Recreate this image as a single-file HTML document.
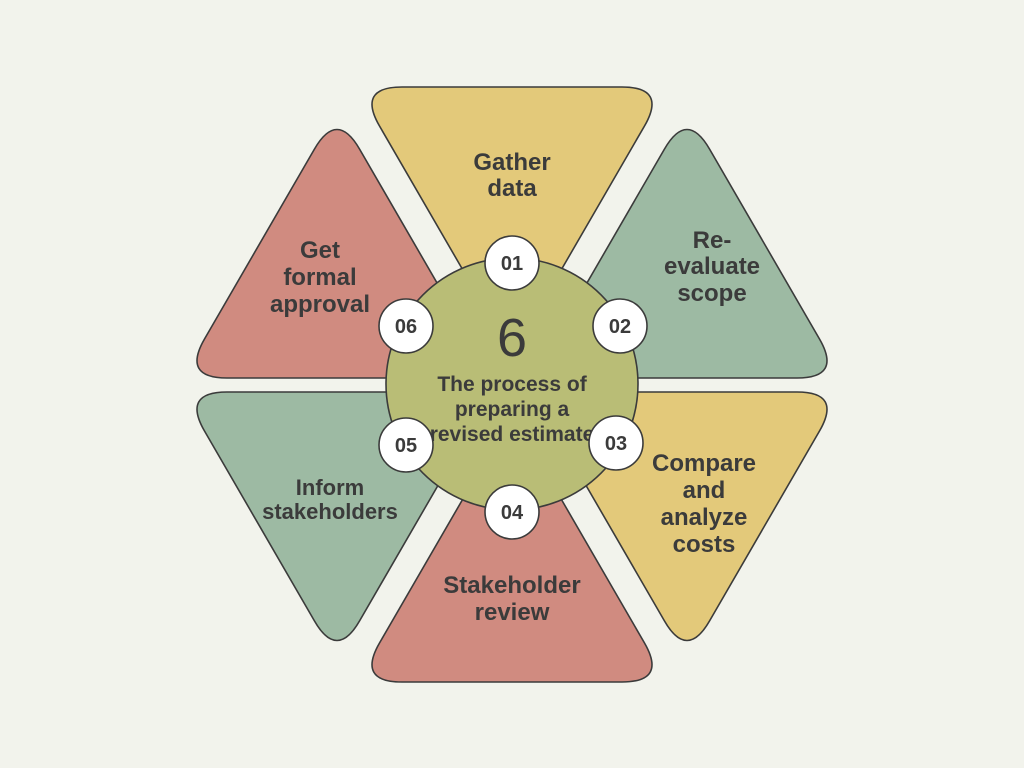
<!DOCTYPE html>
<html><head><meta charset="utf-8"><style>
html,body{margin:0;padding:0;background:#f2f3ec;}
svg{display:block}
text{font-family:"Liberation Sans",sans-serif;font-weight:bold;fill:#3b3b3b;text-anchor:middle}
</style></head><body>
<svg width="1024" height="768" viewBox="0 0 1024 768">
<defs>
<path id="dn" d="M45,0 L265,0 Q310,0 287.5,39 L177.5,229 Q155,268 132.5,229 L22.5,39 Q0,0 45,0Z"/>
<path id="up" d="M45,0 L265,0 Q310,0 287.5,-39 L177.5,-229 Q155,-268 132.5,-229 L22.5,-39 Q0,0 45,0Z"/>
<clipPath id="cc"><circle cx="512" cy="384" r="125"/></clipPath>
</defs>
<rect width="1024" height="768" fill="#f2f3ec"/>
<g stroke="#3b3b3b" stroke-width="1.6">
<use href="#dn" x="357" y="87" fill="#e3c97a"/>
<use href="#up" x="532" y="378" fill="#9dbaa3"/>
<use href="#dn" x="532" y="392" fill="#e3c97a"/>
<use href="#up" x="357" y="682" fill="#d08b80"/>
<use href="#dn" x="182" y="392" fill="#9dbaa3"/>
<use href="#up" x="182" y="378" fill="#d08b80"/>
<circle cx="512" cy="384" r="126" fill="#b9bd76"/>
</g>
<text x="512" y="356" style="font-weight:normal;font-size:54px">6</text>
<g clip-path="url(#cc)" style="font-size:21px">
<text x="512" y="391">The process of</text>
<text x="512" y="416">preparing a</text>
<text x="512" y="441">revised estimate</text>
</g>
<g fill="#fff" stroke="#3b3b3b" stroke-width="1.6">
<circle cx="512" cy="263" r="27"/>
<circle cx="620" cy="326" r="27"/>
<circle cx="616" cy="443" r="27"/>
<circle cx="512" cy="512" r="27"/>
<circle cx="406" cy="445" r="27"/>
<circle cx="406" cy="326" r="27"/>
</g>
<g style="font-size:20px">
<text x="512" y="270">01</text>
<text x="620" y="333">02</text>
<text x="616" y="450">03</text>
<text x="512" y="519">04</text>
<text x="406" y="452">05</text>
<text x="406" y="333">06</text>
</g>
<g style="font-size:24px">
<text x="512" y="170">Gather</text>
<text x="512" y="196">data</text>
<text x="712" y="248">Re-</text>
<text x="712" y="274">evaluate</text>
<text x="712" y="301">scope</text>
<text x="320" y="258">Get</text>
<text x="320" y="285">formal</text>
<text x="320" y="312">approval</text>
<text x="704" y="471">Compare</text>
<text x="704" y="498">and</text>
<text x="704" y="525">analyze</text>
<text x="704" y="552">costs</text>
<text x="512" y="593">Stakeholder</text>
<text x="512" y="620">review</text>
</g>
<g style="font-size:22px">
<text x="330" y="495">Inform</text>
<text x="330" y="519">stakeholders</text>
</g>
</svg>
</body></html>
